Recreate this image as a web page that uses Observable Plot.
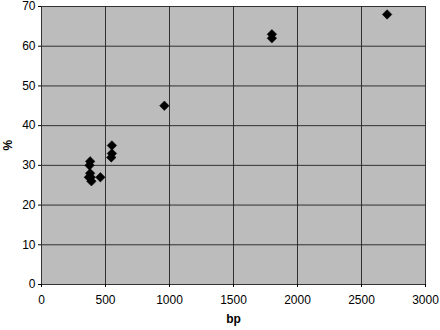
<!DOCTYPE html>
<html><head><meta charset="utf-8">
<script src="https://cdn.jsdelivr.net/npm/d3@7"></script>
<script src="https://cdn.jsdelivr.net/npm/@observablehq/plot@0.6"></script>
<style>body{margin:0;background:#fff;font-family:"Liberation Sans",Arial,sans-serif}</style>
</head><body>
<svg width="0" height="0" style="position:absolute">
<defs><pattern id="dots" width="2" height="2" patternUnits="userSpaceOnUse">
<rect width="2" height="2" fill="#eeeeee"/><rect width="1" height="1" fill="#8a8a8a"/><rect x="1" y="1" width="1" height="1" fill="#8a8a8a"/>
</pattern></defs></svg>
<div id="chart"></div>
<script>
const bp = [2700, 1800, 1800, 960, 550, 550, 545, 380, 375, 380, 370, 385, 390, 460];
const pct = [68, 63, 62, 45, 35, 33, 32, 31, 30, 28, 27, 27, 26, 27];
const xTicks = [0, 500, 1000, 1500, 2000, 2500, 3000];
const yTicks = [0, 10, 20, 30, 40, 50, 60, 70];
const data = bp.map((b, i) => ({bp: b, pct: pct[i]}));

const chart = Plot.plot({
  width: 440, height: 330,
  marginLeft: 41, marginRight: 15, marginTop: 6, marginBottom: 46,
  style: {fontFamily: "Liberation Sans, Arial, sans-serif", fontSize: "12px", color: "#000", background: "#fff"},
  x: {domain: [0, 3000], ticks: xTicks},
  y: {domain: [0, 70], ticks: yTicks},
  marks: [
    Plot.frame({fill: "url(#dots)", stroke: null}),
    Plot.gridX(xTicks, {stroke: "#222", strokeOpacity: 0.9, strokeWidth: 1}),
    Plot.gridY(yTicks, {stroke: "#222", strokeOpacity: 0.9, strokeWidth: 1}),
    Plot.frame({stroke: "#333", strokeDasharray: "1,1"}),
    Plot.axisX({ticks: xTicks, tickFormat: "d", tickSize: 3, tickPadding: 8, fontSize: 12, label: null}),
    Plot.axisY({ticks: yTicks, tickFormat: "d", tickSize: 3, tickPadding: 3, fontSize: 12, label: null}),
    Plot.text(["bp"], {frameAnchor: "bottom", dy: 38, fontWeight: "bold", fontSize: 12}),
    Plot.text(["%"], {frameAnchor: "left", dx: -33, dy: 5, rotate: -90, fontWeight: "bold", fontSize: 12}),
    Plot.dot(data, {x: "bp", y: "pct", symbol: "diamond2", r: 4.3, fill: "#000", stroke: "#000", strokeWidth: 0.5})
  ]
});
document.getElementById("chart").appendChild(chart);
</script>
</body></html>
